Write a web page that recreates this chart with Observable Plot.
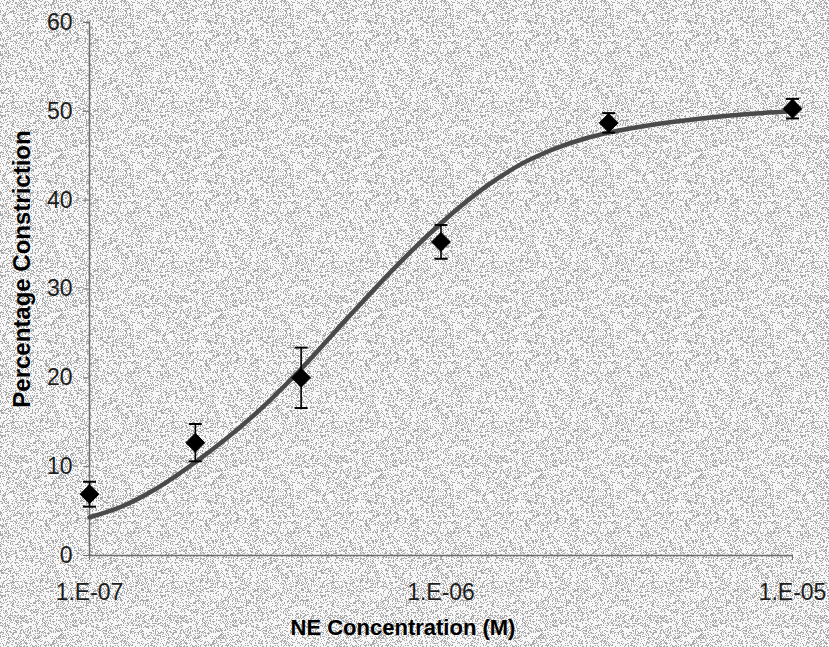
<!DOCTYPE html>
<html>
<head>
<meta charset="utf-8">
<script src="https://cdn.jsdelivr.net/npm/d3@7"></script>
<script src="https://cdn.jsdelivr.net/npm/@observablehq/plot@0.6"></script>
<style>
  html, body { margin: 0; padding: 0; }
  body {
    width: 829px; height: 647px; overflow: hidden;
    background-color: #c4c4c4;
    background-image: url("data:image/svg+xml,%3Csvg xmlns='http://www.w3.org/2000/svg' width='829' height='647'%3E%3Cfilter id='n' x='0' y='0' width='100%25' height='100%25'%3E%3CfeTurbulence type='fractalNoise' baseFrequency='1.6' numOctaves='1' seed='3'/%3E%3CfeColorMatrix type='matrix' values='1 0 0 0 0 1 0 0 0 0 1 0 0 0 0 0 0 0 0 1'/%3E%3CfeComponentTransfer%3E%3CfeFuncR type='discrete' tableValues='0.4 0.4 0.4 0.4 0.4 0.4 0.4 0.4 0.4 0.93 0.93 0.93 0.93 0.93 0.93 0.93 0.93 0.93 0.93 0.93'/%3E%3CfeFuncG type='discrete' tableValues='0.4 0.4 0.4 0.4 0.4 0.4 0.4 0.4 0.4 0.93 0.93 0.93 0.93 0.93 0.93 0.93 0.93 0.93 0.93 0.93'/%3E%3CfeFuncB type='discrete' tableValues='0.4 0.4 0.4 0.4 0.4 0.4 0.4 0.4 0.4 0.93 0.93 0.93 0.93 0.93 0.93 0.93 0.93 0.93 0.93 0.93'/%3E%3C/feComponentTransfer%3E%3C/filter%3E%3Crect width='100%25' height='100%25' filter='url(%23n)'/%3E%3C/svg%3E");
  }
  #chart svg { background: transparent !important; display: block; }
</style>
</head>
<body>
<div id="chart"></div>
<script>
// ---- Data ----
const concentrations = [1e-7, 2e-7, 4e-7, 1e-6, 3e-6, 1e-5];          // M
const meanConstriction = [6.9, 12.7, 20.0, 35.3, 48.7, 50.3];        // %
const errorConstriction = [1.4, 2.1, 3.4, 1.9, 1.1, 1.1];            // ± %

const fitConcentrations = [1.0e-7, 1.25e-7, 1.5e-7, 2.0e-7, 2.9e-7, 4.0e-7, 5.5e-7, 7.65e-7, 1.0e-6, 1.35e-6, 1.68e-6, 2.08e-6, 2.6e-6, 3.0e-6, 4.0e-6, 5.5e-6, 7.5e-6, 1.0e-5];
const fitConstriction  = [4.3, 5.6, 7.2, 10.5, 15.6, 21.0, 27.0, 33.0, 37.4, 41.6, 44.0, 45.7, 47.0, 47.6, 48.5, 49.2, 49.7, 50.0];

const xTicks = [1e-7, 1e-6, 1e-5];
const xTickLabels = ["1.E-07", "1.E-06", "1.E-05"];
const yTicks = [0, 10, 20, 30, 40, 50, 60];

const xTitle = "NE Concentration (M)";
const yTitle = "Percentage Constriction";

// ---- Tables built from the arrays ----
const points = concentrations.map((c, i) => ({
  c, m: meanConstriction[i], lo: meanConstriction[i] - errorConstriction[i], hi: meanConstriction[i] + errorConstriction[i]
}));
const fit = fitConcentrations.map((c, i) => ({c, y: fitConstriction[i]}));

const capSymbol = {
  draw(context) {
    context.moveTo(-6.5, 0);
    context.lineTo(6.5, 0);
  }
};

const font = "'Liberation Sans', Arial, Helvetica, sans-serif";

const chart = Plot.plot({
  width: 829,
  height: 647,
  marginLeft: 89,
  marginRight: 37,
  marginTop: 22,
  marginBottom: 92,
  style: {background: "transparent", fontFamily: font, color: "#1a1a1a", overflow: "visible"},
  x: {type: "log", domain: [1e-7, 1e-5], axis: null},
  y: {domain: [0, 60], axis: null},
  marks: [
    // axis lines
    Plot.ruleY([0], {stroke: "#6e6e6e", strokeWidth: 1.5}),
    Plot.ruleX([1e-7], {stroke: "#6e6e6e", strokeWidth: 1.5}),
    // axes
    Plot.axisY(yTicks, {
      tickSize: 6, tickPadding: 11, fontSize: 23, stroke: "#6e6e6e",
      fill: "#1e1e1e", label: null, tickFormat: d => String(d)
    }),
    Plot.axisX(xTicks, {
      tickSize: 5, tickPadding: 23, fontSize: 23, stroke: "#6e6e6e",
      fill: "#1e1e1e", label: null,
      tickFormat: d => xTickLabels[xTicks.indexOf(d)]
    }),
    // fitted curve
    Plot.line(fit, {x: "c", y: "y", stroke: "#4a4a4a", strokeWidth: 4.5, curve: "monotone-x"}),
    // error bars
    Plot.ruleX(points, {x: "c", y1: "lo", y2: "hi", stroke: "#000", strokeWidth: 1.6}),
    Plot.dot(points, {x: "c", y: "hi", symbol: capSymbol, stroke: "#000", strokeWidth: 2, fill: "none"}),
    Plot.dot(points, {x: "c", y: "lo", symbol: capSymbol, stroke: "#000", strokeWidth: 2, fill: "none"}),
    // means
    Plot.dot(points, {x: "c", y: "m", symbol: "diamond2", r: 8.5, fill: "#000", stroke: "#000", strokeWidth: 1}),
    // axis titles
    Plot.text([xTitle], {frameAnchor: "bottom", dx: -38, dy: 79, fontSize: 22, fontWeight: "bold", fill: "#000", text: d => d}),
    Plot.text([yTitle], {frameAnchor: "left", textAnchor: "middle", rotate: -90, dx: -67, dy: -20, fontSize: 24, fontWeight: "bold", fill: "#000", text: d => d})
  ]
});

document.getElementById("chart").appendChild(chart);
</script>
</body>
</html>
